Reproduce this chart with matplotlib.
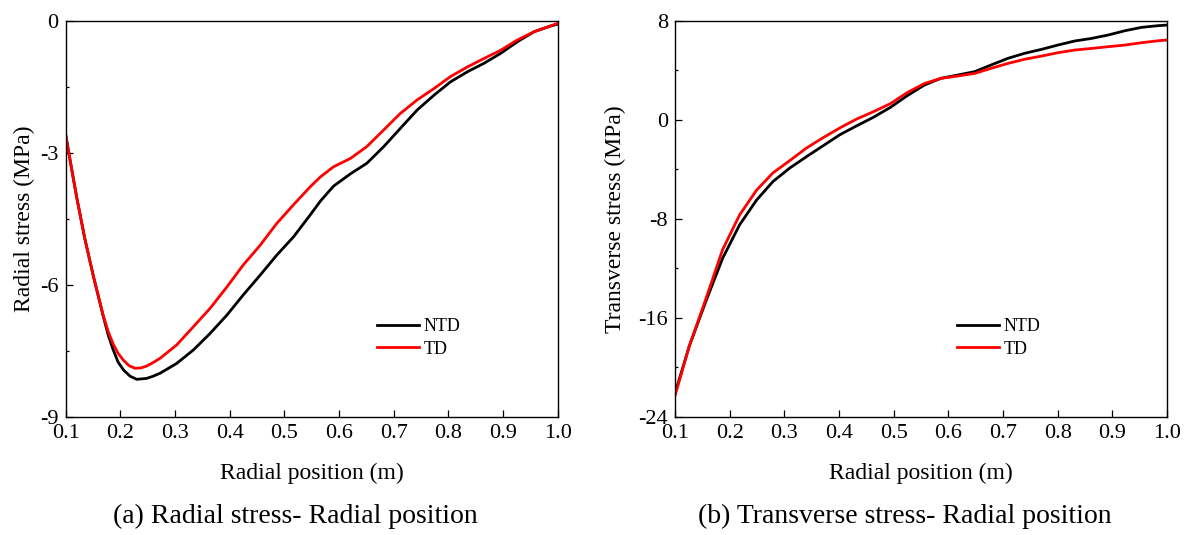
import numpy as np
import matplotlib.pyplot as plt
from matplotlib.ticker import MultipleLocator

# radial stress along the radius (MPa)
r_rad_ntd = [0.100, 0.110, 0.120, 0.135, 0.151, 0.169, 0.178, 0.187, 0.196, 0.206,
             0.218, 0.230, 0.248, 0.260, 0.273, 0.303, 0.334, 0.364, 0.395, 0.425,
             0.456, 0.486, 0.517, 0.547, 0.566, 0.590, 0.621, 0.651, 0.682, 0.712,
             0.743, 0.774, 0.804, 0.835, 0.865, 0.896, 0.926, 0.957, 0.987, 1.000]
rad_ntd = [-2.58, -3.30, -4.00, -4.95, -5.82, -6.73, -7.15, -7.48, -7.76, -7.94,
           -8.08, -8.15, -8.13, -8.08, -8.01, -7.79, -7.48, -7.11, -6.69, -6.23,
           -5.78, -5.33, -4.91, -4.42, -4.10, -3.76, -3.48, -3.24, -2.86, -2.45,
           -2.03, -1.69, -1.39, -1.16, -0.97, -0.74, -0.48, -0.25, -0.12, -0.08]
r_rad_td = [0.100, 0.110, 0.120, 0.135, 0.151, 0.169, 0.178, 0.187, 0.196, 0.206,
            0.216, 0.227, 0.238, 0.248, 0.260, 0.273, 0.303, 0.334, 0.364, 0.395,
            0.425, 0.456, 0.486, 0.517, 0.547, 0.566, 0.590, 0.621, 0.651, 0.682,
            0.712, 0.743, 0.774, 0.804, 0.835, 0.865, 0.896, 0.926, 0.957, 0.987,
            1.000]
rad_td = [-2.60, -3.30, -4.00, -4.95, -5.82, -6.71, -7.07, -7.35, -7.56, -7.72,
          -7.84, -7.90, -7.89, -7.85, -7.77, -7.67, -7.37, -6.95, -6.54, -6.05,
          -5.55, -5.10, -4.61, -4.18, -3.78, -3.55, -3.32, -3.13, -2.86, -2.48,
          -2.11, -1.80, -1.54, -1.27, -1.05, -0.86, -0.67, -0.44, -0.25, -0.12,
          -0.06]

# transverse stress along the radius (MPa)
r_tr = [0.100, 0.126, 0.157, 0.187, 0.218, 0.249, 0.279, 0.310, 0.340, 0.371,
        0.402, 0.432, 0.463, 0.494, 0.525, 0.556, 0.586, 0.617, 0.648, 0.678,
        0.709, 0.739, 0.770, 0.800, 0.831, 0.862, 0.892, 0.923, 0.953, 0.984, 1.000]
tr_ntd = [-22.1, -18.3, -14.6, -11.2, -8.5, -6.5, -5.0, -3.9, -3.0, -2.1,
          -1.2, -0.5, 0.2, 1.0, 1.95, 2.80, 3.34, 3.61, 3.88, 4.42,
          4.96, 5.36, 5.68, 6.03, 6.36, 6.57, 6.84, 7.19, 7.46, 7.60, 7.65]
tr_td = [-22.3, -18.3, -14.4, -10.5, -7.7, -5.7, -4.3, -3.3, -2.3, -1.45,
         -0.65, 0.05, 0.65, 1.30, 2.20, 2.92, 3.34, 3.53, 3.74, 4.15,
         4.55, 4.88, 5.14, 5.41, 5.63, 5.76, 5.90, 6.03, 6.22, 6.38, 6.44]

plt.rcParams['font.family'] = ['Liberation Serif', 'DejaVu Serif']
plt.rcParams['axes.unicode_minus'] = False

fig = plt.figure(figsize=(11.87, 5.35), dpi=100)
ax1 = fig.add_axes([0.0553, 0.2211, 0.4145, 0.7402])
ax2 = fig.add_axes([0.5687, 0.2211, 0.4145, 0.7402])

ax1.plot(r_rad_ntd, rad_ntd, color='black', lw=2, label='NTD')
ax1.plot(r_rad_td, rad_td, color='red', lw=2, label='TD')
ax1.set_ylim(-9, 0)
ax1.yaxis.set_major_locator(MultipleLocator(3))
ax1.yaxis.set_minor_locator(MultipleLocator(1.5))
ax1.set_ylabel('Radial stress (MPa)', fontsize=17, va='center')
ax1.yaxis.set_label_coords(-0.083, 0.5)

ax2.plot(r_tr, tr_ntd, color='black', lw=2, label='NTD')
ax2.plot(r_tr, tr_td, color='red', lw=2, label='TD')
ax2.set_ylim(-24, 8)
ax2.yaxis.set_major_locator(MultipleLocator(8))
ax2.yaxis.set_minor_locator(MultipleLocator(4))
ax2.set_ylabel('Transverse stress (MPa)', fontsize=17, va='center')
ax2.yaxis.set_label_coords(-0.122, 0.5)

for ax, lx in ((ax1, 0.632), (ax2, 0.5726)):
    ax.set_xlim(0.1, 1.0)
    ax.set_xticks(np.arange(0.1, 1.01, 0.1))
    ax.xaxis.set_major_formatter(plt.FormatStrFormatter('%.1f'))
    ax.set_xlabel('Radial position (m)', fontsize=17, va='center')
    ax.xaxis.set_label_coords(0.5, -0.142)
    ax.tick_params(which='major', direction='in', length=4.7, width=0.9,
                   labelsize=16, pad=5)
    ax.tick_params(which='minor', direction='in', length=2.5, width=0.9)
    for s in ax.spines.values():
        s.set_linewidth(1)
    ax.legend(loc='center left', bbox_to_anchor=(lx, 0.199), frameon=False, fontsize=13,
              handlelength=2.35, handletextpad=0.25, labelspacing=0.3,
              borderaxespad=0, borderpad=0)

fig.text(0.249, 0.034, '(a) Radial stress- Radial position', ha='center', va='center',
         fontsize=20)
fig.text(0.762, 0.034, '(b) Transverse stress- Radial position', ha='center', va='center',
         fontsize=20)

fig.savefig('out.png')
